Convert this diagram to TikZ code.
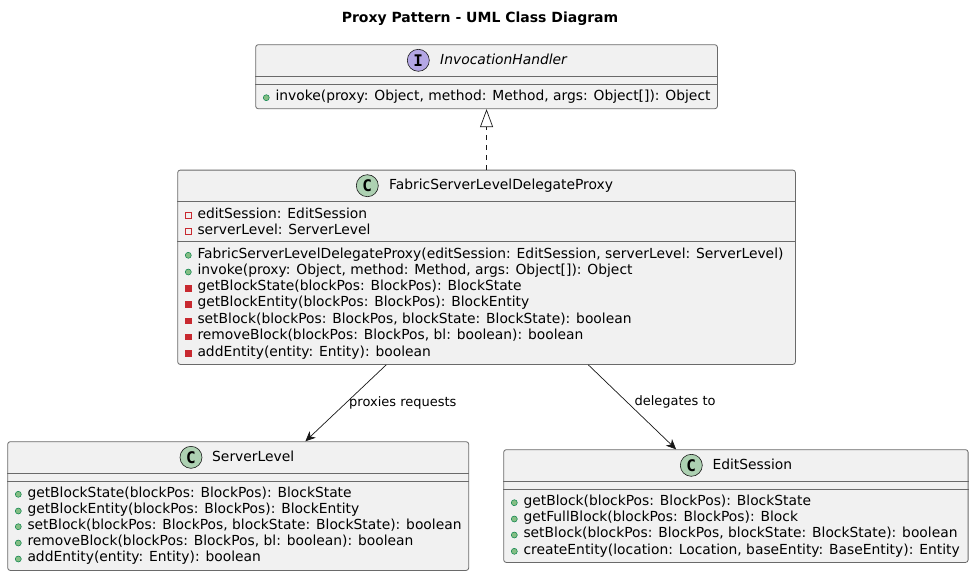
\documentclass[tikz,border=0pt]{standalone}
\usepackage{fontspec}
\setmainfont{DejaVu Sans}
\newfontfamily\iconfont{DejaVu Sans Mono}
\usetikzlibrary{arrows.meta,calc}
\definecolor{boxfill}{HTML}{F1F1F1}
\definecolor{boxline}{HTML}{6A6A6A}
\definecolor{edgeline}{HTML}{181818}
\definecolor{cicon}{HTML}{ADD1B2}
\definecolor{iicon}{HTML}{B4A7E5}
\definecolor{pubfill}{HTML}{84BE84}
\definecolor{publine}{HTML}{038048}
\definecolor{privred}{HTML}{C82930}
\tikzset{
  classbox/.style={draw=boxline, line width=0.8pt, fill=boxfill, rounded corners=2.5pt, inner sep=0pt, anchor=north west},
  sepline/.style={draw=boxline, line width=0.8pt},
  member/.style={anchor=mid west, inner sep=0pt, font=\fontsize{13.85}{16}\selectfont},
  ctitle/.style={anchor=mid west, inner sep=0pt, font=\fontsize{13.85}{16}\selectfont},
  badge/.style={circle, draw=edgeline, line width=0.6pt, minimum size=22pt, inner sep=0pt, font=\iconfont\bfseries\fontsize{16}{16}\selectfont},
  elabel/.style={anchor=mid west, inner sep=0pt, font=\fontsize{13}{15}\selectfont},
  dep/.style={draw=edgeline, line width=0.7pt, -{Stealth[length=10pt,width=9pt,inset=3pt]}},
  real/.style={draw=edgeline, line width=0.7pt, dash pattern=on 5pt off 5pt, -{Triangle[open,length=18pt,width=13pt,fill=white,line width=0.7pt]}},
}
\newcommand\pubm[4]{%
  \filldraw[fill=pubfill, draw=publine, line width=0.5pt] (#2+11,#3+1) circle (3pt);
  \node[member] (#1) at (#2+20,#3+1) {#4};}
\newcommand\privm[4]{%
  \filldraw[fill=privred, draw=privred, line width=0.5pt] (#2+8.2,#3-1.8) rectangle (#2+13.8,#3+3.8);
  \node[member] (#1) at (#2+20,#3+1) {#4};}
\newcommand\privf[4]{%
  \draw[draw=privred, line width=0.8pt] (#2+8.2,#3-1.8) rectangle (#2+13.8,#3+3.8);
  \node[member] (#1) at (#2+20,#3+1) {#4};}
\begin{document}
\begin{tikzpicture}[x=1pt,y=-1pt]
\useasboundingbox[fill=white] (0,0) rectangle (973,576);

\node[font=\bfseries\fontsize{14}{16}\selectfont, inner sep=0pt] (title) at (480,18.8) {Proxy Pattern - UML Class Diagram};

% InvocationHandler
\node[classbox, minimum width=461.7pt, minimum height=64pt] (ih) at (255.3,44.3) {};
\draw[sepline] ($(ih.north west)+(0,32)$) -- ($(ih.north east)+(0,32)$);
\draw[sepline] ($(ih.north west)+(0,40)$) -- ($(ih.north east)+(0,40)$);
\node[badge, fill=iicon] (ihb) at (418.3,60.3) {I};
\node[ctitle, font=\itshape\fontsize{13.85}{16}\selectfont] (iht) at (440,61.3) {InvocationHandler};
\pubm{ihm1}{255.3}{96.7}{invoke(proxy: Object, method: Method, args: Object[]): Object}

% FabricServerLevelDelegateProxy
\node[classbox, minimum width=617.7pt, minimum height=194.3pt] (fab) at (177.3,169.7) {};
\draw[sepline] ($(fab.north west)+(0,32)$) -- ($(fab.north east)+(0,32)$);
\draw[sepline] ($(fab.north west)+(0,71.3)$) -- ($(fab.north east)+(0,71.3)$);
\node[badge, fill=cicon] (fabb) at (367.3,185.7) {C};
\node[ctitle] (fabt) at (389,186.7) {FabricServerLevelDelegateProxy};
\privf{fabf1}{177.3}{214.3}{editSession: EditSession}
\privf{fabf2}{177.3}{230.3}{serverLevel: ServerLevel}
\pubm{fabm1}{177.3}{254.3}{FabricServerLevelDelegateProxy(editSession: EditSession, serverLevel: ServerLevel)}
\pubm{fabm2}{177.3}{271}{invoke(proxy: Object, method: Method, args: Object[]): Object}
\privm{fabm3}{177.3}{287}{getBlockState(blockPos: BlockPos): BlockState}
\privm{fabm4}{177.3}{303}{getBlockEntity(blockPos: BlockPos): BlockEntity}
\privm{fabm5}{177.3}{319.7}{setBlock(blockPos: BlockPos, blockState: BlockState): boolean}
\privm{fabm6}{177.3}{335.7}{removeBlock(blockPos: BlockPos, bl: boolean): boolean}
\privm{fabm7}{177.3}{352.3}{addEntity(entity: Entity): boolean}

% ServerLevel
\node[classbox, minimum width=461pt, minimum height=128.7pt] (sl) at (7.3,441.3) {};
\draw[sepline] ($(sl.north west)+(0,32)$) -- ($(sl.north east)+(0,32)$);
\draw[sepline] ($(sl.north west)+(0,40)$) -- ($(sl.north east)+(0,40)$);
\node[badge, fill=cicon] (slb) at (191,457.3) {C};
\node[ctitle] (slt) at (212,458.3) {ServerLevel};
\pubm{slm1}{7.3}{493.3}{getBlockState(blockPos: BlockPos): BlockState}
\pubm{slm2}{7.3}{510}{getBlockEntity(blockPos: BlockPos): BlockEntity}
\pubm{slm3}{7.3}{525.7}{setBlock(blockPos: BlockPos, blockState: BlockState): boolean}
\pubm{slm4}{7.3}{542}{removeBlock(blockPos: BlockPos, bl: boolean): boolean}
\pubm{slm5}{7.3}{558}{addEntity(entity: Entity): boolean}

% EditSession
\node[classbox, minimum width=464.4pt, minimum height=112.7pt] (es) at (503.3,449.3) {};
\draw[sepline] ($(es.north west)+(0,32)$) -- ($(es.north east)+(0,32)$);
\draw[sepline] ($(es.north west)+(0,40)$) -- ($(es.north east)+(0,40)$);
\node[badge, fill=cicon] (esb) at (691.3,465.3) {C};
\node[ctitle] (est) at (712.3,466.3) {EditSession};
\pubm{esm1}{503.3}{501.7}{getBlock(blockPos: BlockPos): BlockState}
\pubm{esm2}{503.3}{518}{getFullBlock(blockPos: BlockPos): Block}
\pubm{esm3}{503.3}{534}{setBlock(blockPos: BlockPos, blockState: BlockState): boolean}
\pubm{esm4}{503.3}{550.3}{createEntity(location: Location, baseEntity: BaseEntity): Entity}

% connectors
\draw[real] (fab.north) -- (ih.south);
\draw[dep] ([xshift=-100.3pt]fab.south) -- ([xshift=67.2pt]sl.north);
\draw[dep] ([xshift=101.7pt]fab.south) -- ([xshift=-59.8pt]es.north);
\node[elabel] (l1) at (349,403.5) {proxies requests};
\node[elabel] (l2) at (634.3,403.1) {delegates to};
\end{tikzpicture}
\end{document}
